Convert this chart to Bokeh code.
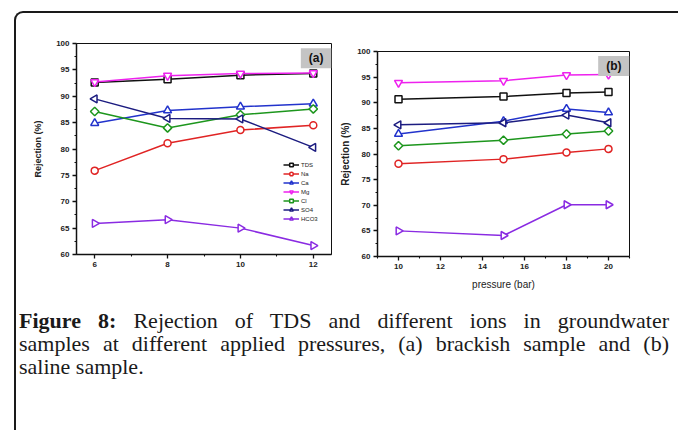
import math
from bokeh.plotting import figure
from bokeh.layouts import row, column
from bokeh.models import FixedTicker, Div, Range1d, Label, Legend, LegendItem
from bokeh.embed import file_html
from bokeh.resources import INLINE

# ---------------- data ----------------
series = ["TDS", "Na", "Ca", "Mg", "Cl", "SO4", "HCO3"]

pressure_a = [6, 8, 10, 12]
tds_a = [92.6, 93.2, 94.0, 94.3]
na_a = [75.9, 81.1, 83.6, 84.5]
ca_a = [84.9, 87.3, 88.0, 88.6]
mg_a = [92.7, 93.9, 94.3, 94.4]
cl_a = [87.1, 84.0, 86.5, 87.6]
so4_a = [89.5, 85.8, 85.7, 80.3]
hco3_a = [65.9, 66.6, 65.0, 61.7]

pressure_b = [10, 15, 18, 20]
tds_b = [90.7, 91.2, 91.9, 92.1]
na_b = [78.1, 79.0, 80.3, 81.0]
ca_b = [83.9, 86.4, 88.8, 88.1]
mg_b = [93.9, 94.3, 95.4, 95.5]
cl_b = [81.6, 82.7, 83.9, 84.5]
so4_b = [85.7, 86.1, 87.6, 86.1]
hco3_b = [65.0, 64.1, 70.1, 70.1]

y_ticks = [60, 65, 70, 75, 80, 85, 90, 95, 100]
y_minor = [62.5, 67.5, 72.5, 77.5, 82.5, 87.5, 92.5, 97.5]
x_ticks_a = [6, 8, 10, 12]
x_minor_a = [7, 9, 11]
x_ticks_b = [10, 12, 14, 16, 18, 20]
x_minor_b = [9, 11, 13, 15, 17, 19, 21]

caption_lines = [
    "<b>Figure 8:</b> Rejection of TDS and different ions in groundwater",
    "samples at different applied pressures, (a) brackish sample and (b)",
    "saline sample.",
]

# ---------------- styles ----------------
colors = {"TDS": "#111111", "Na": "#e02424", "Ca": "#2233cc", "Mg": "#ee22ee",
          "Cl": "#1d961d", "SO4": "#1c1c80", "HCO3": "#8a2be2"}
markers = {"TDS": ("square", 0.0, 7), "Na": ("circle", 0.0, 7),
           "Ca": ("triangle", 0.0, 8), "Mg": ("inverted_triangle", 0.0, 8),
           "Cl": ("square", math.pi / 4, 6), "SO4": ("triangle", math.pi / 2, 8),
           "HCO3": ("triangle", -math.pi / 2, 8)}

SANS = "Liberation Sans"


def make_panel(xs, ys_list, xr, xticks, xminor, width, height, borders, tag,
               ylab_size, ylab_standoff, xlabel=None, legend_loc=None):
    p = figure(width=width, height=height, x_range=Range1d(*xr), y_range=Range1d(60, 100),
               output_backend="svg", toolbar_location=None, title=None,
               min_border_left=borders[0], min_border_right=borders[1],
               min_border_top=borders[2], min_border_bottom=borders[3])
    p.background_fill_color = "white"
    p.border_fill_color = None
    p.outline_line_color = "#111111"
    p.outline_line_width = 1
    p.grid.visible = False

    p.xaxis.ticker = FixedTicker(ticks=xticks, minor_ticks=xminor)
    p.yaxis.ticker = FixedTicker(ticks=y_ticks, minor_ticks=y_minor)
    for ax in (p.xaxis[0], p.yaxis[0]):
        ax.axis_line_width = 1.5
        ax.axis_line_color = "#111111"
        ax.major_tick_line_width = 1.3
        ax.minor_tick_line_width = 1.1
        ax.major_tick_line_color = "#111111"
        ax.minor_tick_line_color = "#111111"
        ax.major_tick_out = 4
        ax.major_tick_in = 0
        ax.minor_tick_out = 2
        ax.minor_tick_in = 0
        ax.major_label_text_font = SANS
        ax.major_label_text_font_size = "8px"
        ax.major_label_text_font_style = "bold"
        ax.major_label_text_color = "#222222"
        ax.major_label_standoff = 3
    p.yaxis.axis_label = "Rejection (%)"
    p.yaxis.axis_label_text_font = SANS
    p.yaxis.axis_label_text_font_size = ylab_size
    p.yaxis.axis_label_text_font_style = "bold"
    p.yaxis.axis_label_text_color = "#222222"
    p.yaxis.axis_label_standoff = ylab_standoff
    if xlabel:
        p.xaxis.axis_label = xlabel
        p.xaxis.axis_label_text_font = SANS
        p.xaxis.axis_label_text_font_size = "10px"
        p.xaxis.axis_label_text_font_style = "normal"
        p.xaxis.axis_label_text_color = "#222222"
        p.xaxis.axis_label_standoff = 7

    items = []
    for name, ys in zip(series, ys_list):
        c = colors[name]
        mk, ang, sz = markers[name]
        l = p.line(xs, ys, line_color=c, line_width=1.5)
        s = p.scatter(xs, ys, marker=mk, angle=ang, size=sz, line_color=c,
                      line_width=1.5, fill_color="white")
        items.append(LegendItem(label=name, renderers=[l, s]))

    if legend_loc is not None:
        lg = Legend(items=items, location=legend_loc, orientation="vertical",
                    glyph_width=16, glyph_height=9, label_height=9, spacing=0,
                    padding=0, margin=0, label_standoff=2,
                    label_text_font=SANS, label_text_font_size="6px",
                    label_text_color="#222222",
                    border_line_color=None, background_fill_alpha=0)
        p.add_layout(lg, "center")

    lab = Label(x=xr[1], y=99.1, text=tag, anchor="top_right",
                text_font=SANS, text_font_size="12px", text_font_style="bold",
                text_color="#111111", background_fill_color="#c4c4c4",
                padding=(8, 3))
    p.add_layout(lab)
    return p


pa = make_panel(pressure_a, [tds_a, na_a, ca_a, mg_a, cl_a, so4_a, hco3_a],
                (5.5, 12.5), x_ticks_a, x_minor_a, 321, 279, (60, 6, 30, 38),
                "(a)", "9px", 10, legend_loc=(207, 31))
pb = make_panel(pressure_b, [tds_b, na_b, ca_b, mg_b, cl_b, so4_b, hco3_b],
                (9, 21), x_ticks_b, x_minor_b, 333, 279, (38, 41, 38, 33),
                "(b)", "10px", 3, xlabel="pressure (bar)")

html = ('<div style="margin:12px 0 0 -2px;width:650px;font-family:\'Liberation Serif\';'
        'font-size:22px;line-height:23px;color:#1a1a1a;">')
for i, ln in enumerate(caption_lines):
    last = "justify" if i < len(caption_lines) - 1 else "left"
    html += f'<div style="text-align:justify;text-align-last:{last};">{ln}</div>'
html += '</div>'
cap = Div(text=html, width=660, height=136)

root = column(row(column(pa), column(pb)), cap,
              styles={"margin-left": "14px", "margin-top": "11px",
                      "border-top": "2px solid #1a1a1a",
                      "border-left": "2px solid #1a1a1a",
                      "border-top-left-radius": "9px"})

open("out.html", "w").write(file_html(root, INLINE))
